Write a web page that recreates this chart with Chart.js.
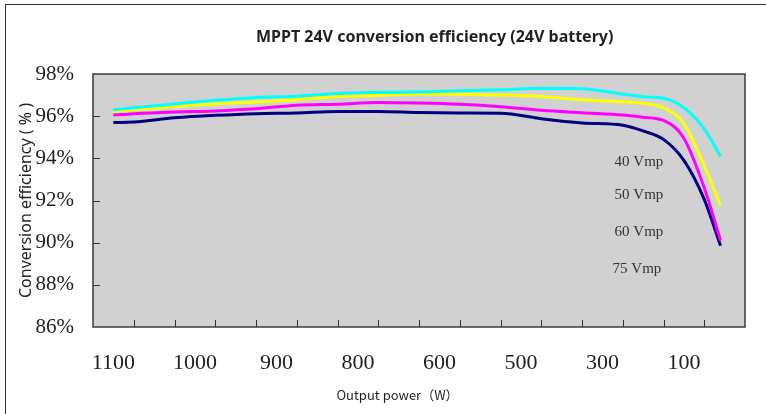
<!DOCTYPE html>
<html>
<head>
<meta charset="utf-8">
<script src="https://cdn.jsdelivr.net/npm/chart.js@4/dist/chart.umd.min.js"></script>
<style>
  html, body { margin: 0; padding: 0; background: #fff; }
  #wrap { position: relative; width: 766px; height: 414px; }
  #frame { position: absolute; left: 5px; top: 4px; right: 0; bottom: 0;
           border-left: 1px solid #333; border-top: 1px solid #333; pointer-events: none; }
</style>
</head>
<body>
<div id="wrap">
  <canvas id="chart" width="766" height="414"></canvas>
  <div id="frame"></div>
</div>
<script>
// x positions (axis slots, 16 slots between the edges) where the curves were read
const xPos = [0.5, 1, 2, 3, 4, 5, 6, 7, 8, 9, 10, 11, 12, 13, 13.5, 14, 14.5, 15, 15.4];

// tick labels on the power axis and where they sit
const xLabels = ['1100', '1000', '900', '800', '600', '500', '300', '100'];
const xLabelPos = [0.5, 2.5, 4.5, 6.5, 8.5, 10.5, 12.5, 14.5];

// efficiency in %
const eff40 = [96.30, 96.40, 96.58, 96.75, 96.89, 96.95, 97.08, 97.13, 97.15, 97.20, 97.25, 97.32, 97.30, 97.05, 96.92, 96.85, 96.40, 95.40, 94.10];
const eff50 = [96.21, 96.30, 96.45, 96.58, 96.67, 96.78, 96.93, 96.99, 97.05, 97.03, 97.00, 96.93, 96.78, 96.68, 96.60, 96.40, 95.65, 93.65, 91.75];
const eff60 = [96.05, 96.12, 96.20, 96.25, 96.35, 96.52, 96.57, 96.65, 96.62, 96.56, 96.45, 96.28, 96.16, 96.05, 95.95, 95.80, 94.95, 92.60, 90.10];
const eff75 = [95.70, 95.72, 95.92, 96.04, 96.12, 96.15, 96.22, 96.22, 96.17, 96.15, 96.14, 95.88, 95.68, 95.57, 95.30, 94.90, 93.90, 92.05, 89.85];

const seriesNames = ['40 Vmp', '50 Vmp', '60 Vmp', '75 Vmp'];
const seriesColors = ['#00ffff', '#ffff00', '#ff00ff', '#000080'];

// where the series names are written inside the plot
const nameX = [12.8, 12.8, 12.8, 12.75];
const nameY = [93.8, 92.25, 90.5, 88.75];

function toPoints(arr) {
    return arr.map((v, i) => ({ x: xPos[i], y: v }));
}

// background, frame, inward ticks and texts
const decor = {
    id: 'decor',
    beforeDatasetsDraw(chart) {
        const { ctx, chartArea: a } = chart;
        ctx.save();
        ctx.fillStyle = '#d1d1d1';
        ctx.fillRect(a.left, a.top, a.width, a.height);
        ctx.restore();
    },
    afterDraw(chart) {
        const { ctx, chartArea: a, scales } = chart;
        const x = scales.x, y = scales.y;
        ctx.save();

        ctx.strokeStyle = '#333';
        ctx.lineWidth = 1;
        ctx.beginPath();
        for (let k = 1; k < 16; k++) {
            let px = Math.round(x.getPixelForValue(k)) + 0.5;
            ctx.moveTo(px, a.bottom);
            ctx.lineTo(px, a.bottom - 7);
        }
        for (let v = 88; v < 98; v += 2) {
            let py = Math.round(y.getPixelForValue(v)) + 0.5;
            ctx.moveTo(a.left, py);
            ctx.lineTo(a.left + 7, py);
        }
        ctx.stroke();

        ctx.strokeStyle = '#3a3a3a';
        ctx.lineWidth = 1.5;
        ctx.strokeRect(a.left, a.top, a.width, a.height);

        ctx.fillStyle = '#333';
        ctx.font = '15px "Liberation Serif"';
        ctx.textAlign = 'left';
        ctx.textBaseline = 'middle';
        seriesNames.forEach((n, i) => {
            ctx.fillText(n, x.getPixelForValue(nameX[i]), y.getPixelForValue(nameY[i]));
        });

        ctx.fillStyle = '#231f20';
        ctx.textAlign = 'center';
        ctx.font = 'bold 16px "Noto Sans"';
        ctx.fillText('MPPT 24V conversion efficiency (24V battery)', a.left + a.width * 0.524, 37);

        ctx.font = '13px "Noto Sans CJK SC"';
        ctx.fillText('Output power（W）', a.left + a.width * 0.467, 395);
        ctx.restore();
    }
};

let datasets = [eff40, eff50, eff60, eff75].map((arr, i) => ({
    label: seriesNames[i],
    data: toPoints(arr),
    borderColor: seriesColors[i],
    backgroundColor: seriesColors[i],
    borderWidth: 3,
    pointRadius: 0,
    cubicInterpolationMode: 'monotone',
    fill: false
}));

let chart = new Chart(document.getElementById('chart'), {
    type: 'line',
    data: { datasets: datasets },
    options: {
        responsive: false,
        animation: false,
        layout: { padding: { left: 0, right: 21, top: 74, bottom: 0 } },
        plugins: {
            legend: { display: false },
            tooltip: { enabled: false }
        },
        scales: {
            x: {
                type: 'linear',
                min: 0,
                max: 16,
                grid: { display: false, drawTicks: false },
                border: { display: false },
                afterBuildTicks: s => { s.ticks = xLabelPos.map(v => ({ value: v })); },
                afterFit: s => { s.height = 87; },
                ticks: {
                    autoSkip: false,
                    maxRotation: 0,
                    padding: 23,
                    color: '#222',
                    font: { family: '"Liberation Serif"', size: 22 },
                    callback: v => xLabels[xLabelPos.indexOf(v)]
                }
            },
            y: {
                min: 86,
                max: 98,
                grid: { display: false, drawTicks: false },
                border: { display: false },
                afterFit: s => { s.width = 93; },
                ticks: {
                    stepSize: 2,
                    padding: 19,
                    color: '#222',
                    font: { family: '"Liberation Serif"', size: 21 },
                    callback: v => v + '%'
                },
                title: {
                    display: true,
                    text: 'Conversion efficiency ( % )',
                    color: '#222',
                    font: { family: '"Noto Sans"', size: 16 },
                    padding: { top: 17, bottom: 0 }
                }
            }
        }
    },
    plugins: [decor]
});
</script>
</body>
</html>
